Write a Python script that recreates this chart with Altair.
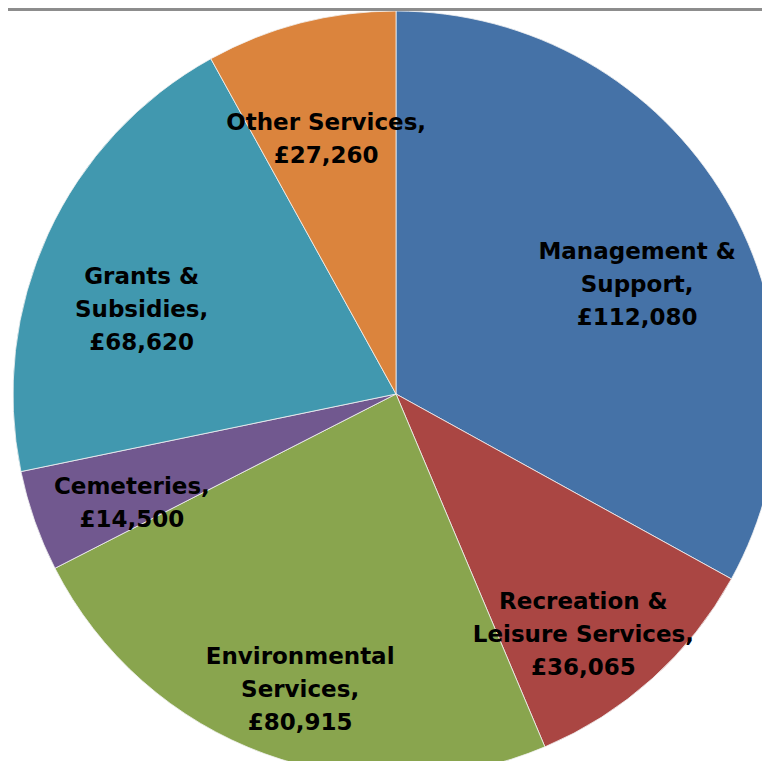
import altair as alt
import pandas as pd

categories = ["Management & Support", "Recreation & Leisure Services", "Environmental Services",
              "Cemeteries", "Grants & Subsidies", "Other Services"]
label_names = [["Management &", "Support,"], ["Recreation &", "Leisure Services,"],
               ["Environmental", "Services,"], ["Cemeteries,"], ["Grants &", "Subsidies,"],
               ["Other Services,"]]
values = [112080, 36065, 80915, 14500, 68620, 27260]
colors = ["#4572A7", "#AA4643", "#89A54E", "#71588F", "#4198AF", "#DB843D"]

rows = []
for i, (c, v) in enumerate(zip(categories, values)):
    rows.append({
        "category": c,
        "value": v,
        "order": i,
        "label": "\n".join(label_names[i] + ["£{:,}".format(v)]),
    })
df = pd.DataFrame(rows)

CX, CY, R = 388, 386, 383

base = alt.Chart(df).encode(
    theta=alt.Theta("value:Q", stack=True),
    order=alt.Order("order:O"),
)

pie = base.mark_arc(radius=R, stroke="#f2f2f2", strokeWidth=0.8).encode(
    x=alt.value(CX),
    y=alt.value(CY),
    color=alt.Color("category:N", sort=categories,
                    scale=alt.Scale(domain=categories, range=colors), legend=None),
)

text = base.mark_text(
    radius=280, font="DejaVu Sans", fontWeight="bold", fontSize=23,
    lineHeight=33, lineBreak="\n", align="center", baseline="middle", color="black",
).encode(
    x=alt.value(CX),
    y=alt.value(CY),
    text="label:N",
)

top_line = alt.Chart(df).mark_rule(color="#8c8c8c", strokeWidth=2).encode(
    x=alt.value(0), x2=alt.value(754), y=alt.value(1.5)
)

chart = alt.layer(pie, text, top_line).properties(
    width=754, height=753, padding=0,
    autosize=alt.AutoSizeParams(type="none"),
).configure_view(stroke=None)

chart.save("out.html", embed_options={"renderer": "svg", "actions": False})
